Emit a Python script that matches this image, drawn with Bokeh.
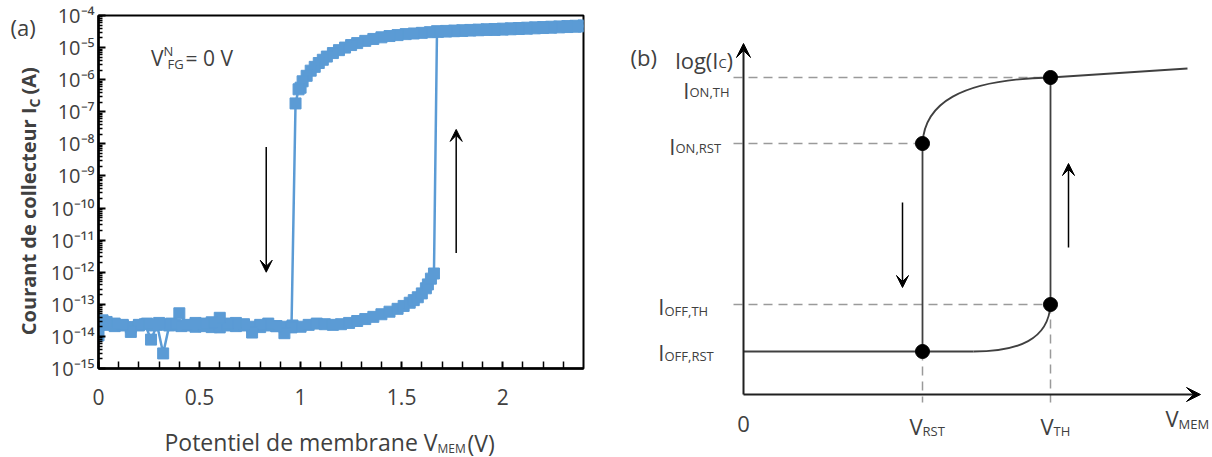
import math
from bokeh.plotting import figure
from bokeh.layouts import row, column
from bokeh.models import (FixedTicker, CustomJSTickFormatter, Label, Arrow,
                          VeeHead, Range1d)
from bokeh.embed import file_html
from bokeh.resources import INLINE

# ---------------- panel (a) data : measured I-V hysteresis ----------------
# forward sweep (V_MEM increasing)
v_fwd = [0.00, 0.02, 0.05, 0.08, 0.12, 0.16, 0.20, 0.23, 0.26, 0.29,
         0.32, 0.35, 0.38, 0.41, 0.44, 0.48, 0.52, 0.56, 0.60, 0.64,
         0.68, 0.72, 0.76, 0.80, 0.84, 0.88, 0.92, 0.96, 1.00, 1.04,
         1.08, 1.12, 1.16, 1.20, 1.24, 1.28, 1.32, 1.36, 1.40, 1.44,
         1.48, 1.51, 1.54, 1.56, 1.58, 1.60, 1.62, 1.63, 1.645, 1.66,
         1.675, 1.72, 1.76, 1.80, 1.84, 1.88, 1.92, 1.96, 2.00, 2.04,
         2.08, 2.12, 2.16, 2.20, 2.24, 2.28, 2.32, 2.36, 2.40]
i_fwd = [1.07e-14, 3.16e-14, 2.29e-14, 2.09e-14, 2.19e-14, 1.95e-14, 2.19e-14, 2.40e-14, 7.94e-15, 2.29e-14,
         2.95e-15, 2.19e-14, 2.29e-14, 2.09e-14, 2.19e-14, 2.00e-14, 2.09e-14, 1.95e-14, 1.91e-14, 2.19e-14,
         2.09e-14, 2.19e-14, 2.00e-14, 1.95e-14, 2.19e-14, 2.09e-14, 2.00e-14, 2.19e-14, 2.00e-14, 2.29e-14,
         2.51e-14, 2.40e-14, 2.29e-14, 2.40e-14, 2.63e-14, 3.02e-14, 3.47e-14, 4.07e-14, 4.90e-14, 5.89e-14,
         7.24e-14, 8.91e-14, 1.12e-13, 1.35e-13, 1.66e-13, 2.19e-13, 3.16e-13, 4.17e-13, 6.31e-13, 9.12e-13,
         3.24e-5, 3.31e-5, 3.39e-5, 3.47e-5, 3.55e-5, 3.63e-5, 3.72e-5, 3.80e-5, 3.89e-5, 3.98e-5,
         4.07e-5, 4.17e-5, 4.27e-5, 4.37e-5, 4.47e-5, 4.57e-5, 4.68e-5, 4.79e-5, 4.90e-5]

# reverse sweep (V_MEM decreasing)
v_rev = [2.40, 2.36, 2.32, 2.28, 2.24, 2.20, 2.16, 2.12, 2.08, 2.04,
         2.00, 1.96, 1.92, 1.88, 1.84, 1.80, 1.76, 1.72, 1.68, 1.64,
         1.60, 1.56, 1.52, 1.48, 1.44, 1.40, 1.36, 1.32, 1.28, 1.25,
         1.22, 1.19, 1.16, 1.13, 1.11, 1.09, 1.07, 1.05, 1.03, 1.01,
         1.00, 0.99, 0.975, 0.955, 0.92, 0.88, 0.84, 0.80, 0.76, 0.72,
         0.68, 0.64, 0.60, 0.56, 0.52, 0.48, 0.44, 0.40, 0.36, 0.33,
         0.30, 0.27, 0.24, 0.20, 0.16, 0.12, 0.08, 0.04, 0.00]
i_rev = [4.57e-5, 4.47e-5, 4.37e-5, 4.27e-5, 4.17e-5, 4.07e-5, 3.98e-5, 3.89e-5, 3.80e-5, 3.72e-5,
         3.63e-5, 3.55e-5, 3.55e-5, 3.47e-5, 3.39e-5, 3.31e-5, 3.24e-5, 3.16e-5, 3.09e-5, 3.02e-5,
         2.88e-5, 2.75e-5, 2.63e-5, 2.45e-5, 2.29e-5, 2.09e-5, 1.86e-5, 1.62e-5, 1.38e-5, 1.20e-5,
         1.00e-5, 8.32e-6, 6.76e-6, 5.25e-6, 4.17e-6, 3.31e-6, 2.51e-6, 1.91e-6, 1.32e-6, 8.91e-7,
         5.62e-7, 5.01e-7, 1.82e-7, 1.91e-14, 1.26e-14, 2.09e-14, 2.51e-14, 2.29e-14, 1.32e-14, 2.40e-14,
         2.63e-14, 2.51e-14, 3.80e-14, 2.75e-14, 2.51e-14, 2.63e-14, 2.29e-14, 5.25e-14, 2.51e-14, 2.40e-14,
         2.63e-14, 2.19e-14, 2.51e-14, 2.29e-14, 1.38e-14, 2.29e-14, 2.51e-14, 2.82e-14, 2.19e-14]

x_ticks = [0, 0.5, 1, 1.5, 2]
x_tick_labels = ["0", "0.5", "1", "1.5", "2"]
x_minor = [0.1, 0.2, 0.3, 0.4, 0.6, 0.7, 0.8, 0.9, 1.1, 1.2, 1.3, 1.4,
           1.6, 1.7, 1.8, 1.9, 2.1, 2.2, 2.3]
y_exponents = [-15, -14, -13, -12, -11, -10, -9, -8, -7, -6, -5, -4]
y_tick_labels = ["10\u207b\u00b9\u2075", "10\u207b\u00b9\u2074", "10\u207b\u00b9\u00b3",
                 "10\u207b\u00b9\u00b2", "10\u207b\u00b9\u00b9", "10\u207b\u00b9\u2070",
                 "10\u207b\u2079", "10\u207b\u2078", "10\u207b\u2077", "10\u207b\u2076",
                 "10\u207b\u2075", "10\u207b\u2074"]

# ---------------- panel (b) data : schematic (arbitrary units) ----------------
v_rst, v_th = 179, 307
i_off_rst, i_off_th = 43, 90
i_on_rst, i_on_th = 251, 317
v_tail, i_tail = 444, 326          # end of the ON branch
v_axis_end, i_axis_end = 457, 351  # axis arrow tips

FONT = "Open Sans"
TXT = "#404040"
BLUE = "#5b9bd5"
MAIN = 22
SUB = 13


def blank(width, height, xr, yr):
    f = figure(width=width, height=height, x_range=Range1d(*xr), y_range=Range1d(*yr),
               output_backend="svg", toolbar_location=None, min_border=0,
               x_axis_location=None, y_axis_location=None)
    f.grid.visible = False
    f.outline_line_color = None
    return f


def lab(p, x, y, text, size, **kw):
    # (x, y) is the visual centre line of the text
    kw.setdefault("text_baseline", "middle")
    kw.setdefault("text_color", TXT)
    p.add_layout(Label(x=x, y=y, text=text, text_font=FONT,
                       text_font_size=f"{size}px", **kw))


# ============================ panel (a) ============================
pa = figure(width=564, height=420, x_range=Range1d(0, 2.4), y_range=Range1d(1e-15, 1e-4),
            y_axis_type="log", output_backend="svg", toolbar_location=None,
            min_border_left=54, min_border_right=25, min_border_top=15, min_border_bottom=52)
pa.grid.visible = False
pa.outline_line_color = "black"
pa.outline_line_width = 2
pa.outline_line_alpha = 1.0

for vv, ii in ((v_fwd, i_fwd), (v_rev, i_rev)):
    pa.line(vv, ii, line_color=BLUE, line_width=2.5)
    pa.scatter(vv, ii, marker="square", size=11, fill_color=BLUE, line_color=BLUE)

y_ticks = [10.0 ** e for e in y_exponents]
y_minor = [m * 10.0 ** e for e in y_exponents[:-1] for m in range(2, 10)]

xa = pa.xaxis[0]
ya = pa.yaxis[0]
xa.ticker = FixedTicker(ticks=x_ticks, minor_ticks=x_minor)
ya.ticker = FixedTicker(ticks=y_ticks, minor_ticks=y_minor)
xa.formatter = CustomJSTickFormatter(args=dict(tvals=x_ticks, tlabels=x_tick_labels), code="""
const i = tvals.findIndex(t => Math.abs(t - tick) < 1e-9);
return i >= 0 ? tlabels[i] : "";
""")
ya.formatter = CustomJSTickFormatter(args=dict(tvals=y_ticks, tlabels=y_tick_labels), code="""
const i = tvals.findIndex(t => Math.abs(Math.log10(t) - Math.log10(tick)) < 1e-6);
return i >= 0 ? tlabels[i] : "";
""")
for ax in (xa, ya):
    ax.axis_line_width = 2.5
    ax.axis_line_color = "black"
    ax.major_tick_out = 0
    ax.minor_tick_out = 0
    ax.major_tick_line_color = "black"
    ax.minor_tick_line_color = "black"
    ax.major_tick_line_width = 2
    ax.minor_tick_line_width = 1.5
    ax.major_label_text_font = FONT
    ax.major_label_text_color = TXT
xa.major_label_text_font_size = "21px"
ya.major_label_text_font_size = "20px"
xa.major_tick_in = 7
xa.minor_tick_in = 7
ya.major_tick_in = 7
ya.minor_tick_in = 4
xa.major_label_standoff = 20
ya.major_label_standoff = 4
ya.major_label_text_align = "right"


def V(px):      # page pixel -> volts (annotation placement only)
    return (px - 98) / 202.08


def I(py):      # page pixel -> amps (annotation placement only)
    return 10 ** (-4 - (py - 15) / 32.09)


# V^N_FG = 0 V
lab(pa, V(163), I(57.5), "V", 21, text_align="right")
lab(pa, V(163), I(50), "N", SUB)
lab(pa, V(167), I(63), "FG", SUB)
lab(pa, V(185), I(57.5), "= 0 V", 21)

# sweep direction arrows
pa.add_layout(Arrow(end=VeeHead(size=12, fill_color="black", line_color="black"),
                    x_start=0.83, y_start=10 ** -8.1, x_end=0.83, y_end=10 ** -12.0,
                    line_width=1.5, line_color="black"))
pa.add_layout(Arrow(end=VeeHead(size=12, fill_color="black", line_color="black"),
                    x_start=1.77, y_start=10 ** -11.4, x_end=1.77, y_end=10 ** -7.55,
                    line_width=1.5, line_color="black"))

# title strips for panel (a) (page-pixel coordinates, y = -page_y)
ystrip = blank(44, 457, (0, 44), (-457, 0))
lab(ystrip, 10, -26, "(a)", MAIN)
lab(ystrip, 28, -107, "Courant de collecteur I", 20, text_align="right",
    angle=math.pi / 2, text_font_style="bold")
lab(ystrip, 34, -107, "C", 14, angle=math.pi / 2, text_font_style="bold")
lab(ystrip, 28, -94, "(A)", 20, angle=math.pi / 2, text_font_style="bold")

xstrip = blank(564, 37, (44, 608), (-457, -420))
lab(xstrip, 437, -441.5, "Potentiel de membrane V", 23, text_align="right")
lab(xstrip, 437, -447.5, "MEM", 12)
lab(xstrip, 467, -442, "(V)", 23)

# ============================ panel (b) ============================
pb = blank(604, 457, (-135, 469), (-63, 394))

DASH = dict(line_color="#9a9a9a", line_width=1.5, line_dash="9 6")
SOLID = dict(line_color="#404040", line_width=1.8)

# dashed guides
pb.segment(x0=[-10, -10, -10], y0=[i_on_th, i_on_rst, i_off_th],
           x1=[v_th, v_rst, v_th], y1=[i_on_th, i_on_rst, i_off_th], **DASH)
pb.segment(x0=[v_rst, v_th], y0=[i_off_rst, i_off_th],
           x1=[v_rst, v_th], y1=[-8, -8], **DASH)
# vertical switching lines
pb.segment(x0=[v_rst, v_th], y0=[i_off_rst, i_off_th],
           x1=[v_rst, v_th], y1=[i_on_rst, i_on_th], **SOLID)
# OFF branch
pb.segment(x0=[0], y0=[i_off_rst], x1=[230], y1=[i_off_rst], **SOLID)
pb.bezier(x0=[230], y0=[i_off_rst], cx0=[275], cy0=[i_off_rst],
          cx1=[305], cy1=[55], x1=[v_th], y1=[i_off_th], **SOLID)
# ON branch
pb.bezier(x0=[v_rst], y0=[i_on_rst], cx0=[181], cy0=[290],
          cx1=[215], cy1=[315], x1=[v_th], y1=[i_on_th], **SOLID)
pb.segment(x0=[v_th], y0=[i_on_th], x1=[v_tail], y1=[i_tail], **SOLID)
# dots
pb.scatter(x=[v_rst, v_rst, v_th, v_th], y=[i_off_rst, i_on_rst, i_off_th, i_on_th],
           size=14, fill_color="black", line_color="black")
# axes
for xs, ys, xe, ye in ((0, 0, 0, i_axis_end), (0, 0, v_axis_end, 0)):
    pb.add_layout(Arrow(end=VeeHead(size=14, fill_color="black", line_color="black"),
                        x_start=xs, y_start=ys, x_end=xe, y_end=ye,
                        line_width=2, line_color="#202020"))
# direction arrows
pb.add_layout(Arrow(end=VeeHead(size=12, fill_color="black", line_color="black"),
                    x_start=159, y_start=192, x_end=159, y_end=107,
                    line_width=1.5, line_color="black"))
pb.add_layout(Arrow(end=VeeHead(size=12, fill_color="black", line_color="black"),
                    x_start=325, y_start=147, x_end=325, y_end=231,
                    line_width=1.5, line_color="black"))

lab(pb, -113, 338, "(b)", MAIN)
lab(pb, -25, 334.5, "log(I", MAIN, text_align="right")
lab(pb, -25, 332, "C", SUB)
lab(pb, -17, 334.5, ")", MAIN)
lab(pb, -54, 305, "I", MAIN, text_align="right")
lab(pb, -54, 302.5, "ON,TH", SUB)
lab(pb, -68, 249, "I", MAIN, text_align="right")
lab(pb, -68, 246.5, "ON,RST", SUB)
lab(pb, -79, 89, "I", MAIN, text_align="right")
lab(pb, -79, 84, "OFF,TH", SUB)
lab(pb, -79, 42.5, "I", MAIN, text_align="right")
lab(pb, -79, 39, "OFF,RST", SUB)
lab(pb, 0, -29.5, "0", MAIN, text_align="center")
lab(pb, v_rst, -31, "V", MAIN, text_align="right")
lab(pb, v_rst, -36.5, "RST", SUB)
lab(pb, v_th + 3, -31, "V", MAIN, text_align="right")
lab(pb, v_th + 3, -36.5, "TH", SUB)
lab(pb, 435, -23.5, "V", MAIN, text_align="right")
lab(pb, 435, -29, "MEM", SUB)

layout = row(ystrip, column(row(pa), xstrip), pb)
open("out.html", "w").write(file_html(layout, INLINE))
